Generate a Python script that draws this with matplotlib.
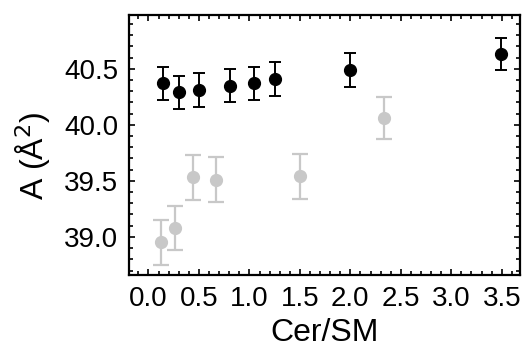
import matplotlib
matplotlib.use('Agg')
import matplotlib.pyplot as plt
from matplotlib.ticker import MultipleLocator, FormatStrFormatter

# black series
x_black = [0.14, 0.30, 0.50, 0.81, 1.05, 1.25, 2.00, 3.49]
y_black = [40.37, 40.29, 40.31, 40.35, 40.37, 40.41, 40.49, 40.63]
e_black = [0.145, 0.15, 0.15, 0.15, 0.145, 0.15, 0.15, 0.145]

# grey series
x_grey = [0.12, 0.26, 0.44, 0.67, 1.50, 2.33]
y_grey = [38.95, 39.08, 39.53, 39.51, 39.54, 40.06]
e_grey = [0.20, 0.20, 0.20, 0.20, 0.20, 0.19]

plt.rcParams['font.family'] = ['Liberation Sans', 'DejaVu Sans']

fig = plt.figure(figsize=(5.22, 3.48), dpi=100)
ax = fig.add_axes([0.2477, 0.2098, 0.7483, 0.7471])

ax.errorbar(x_grey, y_grey, yerr=e_grey, fmt='o', color='#c8c8c8', ms=8.5,
            capsize=6, elinewidth=1.6, capthick=1.6)
ax.errorbar(x_black, y_black, yerr=e_black, fmt='o', color='black', ms=8.5,
            capsize=4.5, elinewidth=1.4, capthick=1.4)

ax.set_xlim(-0.19, 3.68)
ax.set_ylim(38.66, 40.98)
ax.xaxis.set_major_locator(MultipleLocator(0.5))
ax.xaxis.set_minor_locator(MultipleLocator(0.1))
ax.yaxis.set_major_locator(MultipleLocator(0.5))
ax.yaxis.set_minor_locator(MultipleLocator(0.1))
ax.xaxis.set_major_formatter(FormatStrFormatter('%.1f'))
ax.yaxis.set_major_formatter(FormatStrFormatter('%.1f'))

ax.tick_params(which='both', direction='in', top=True, right=True, width=1.2)
ax.tick_params(which='major', length=4.5, labelsize=20, pad=8)
ax.tick_params(which='minor', length=3)
for s in ax.spines.values():
    s.set_linewidth(1.6)

ax.set_xlabel('Cer/SM', fontsize=23)
ax.set_ylabel('A (Å$^2$)', fontsize=23)
ax.xaxis.set_label_coords(0.5, -0.165)
ax.yaxis.set_label_coords(-0.195, 0.46)

fig.savefig('out.png', dpi=100)
